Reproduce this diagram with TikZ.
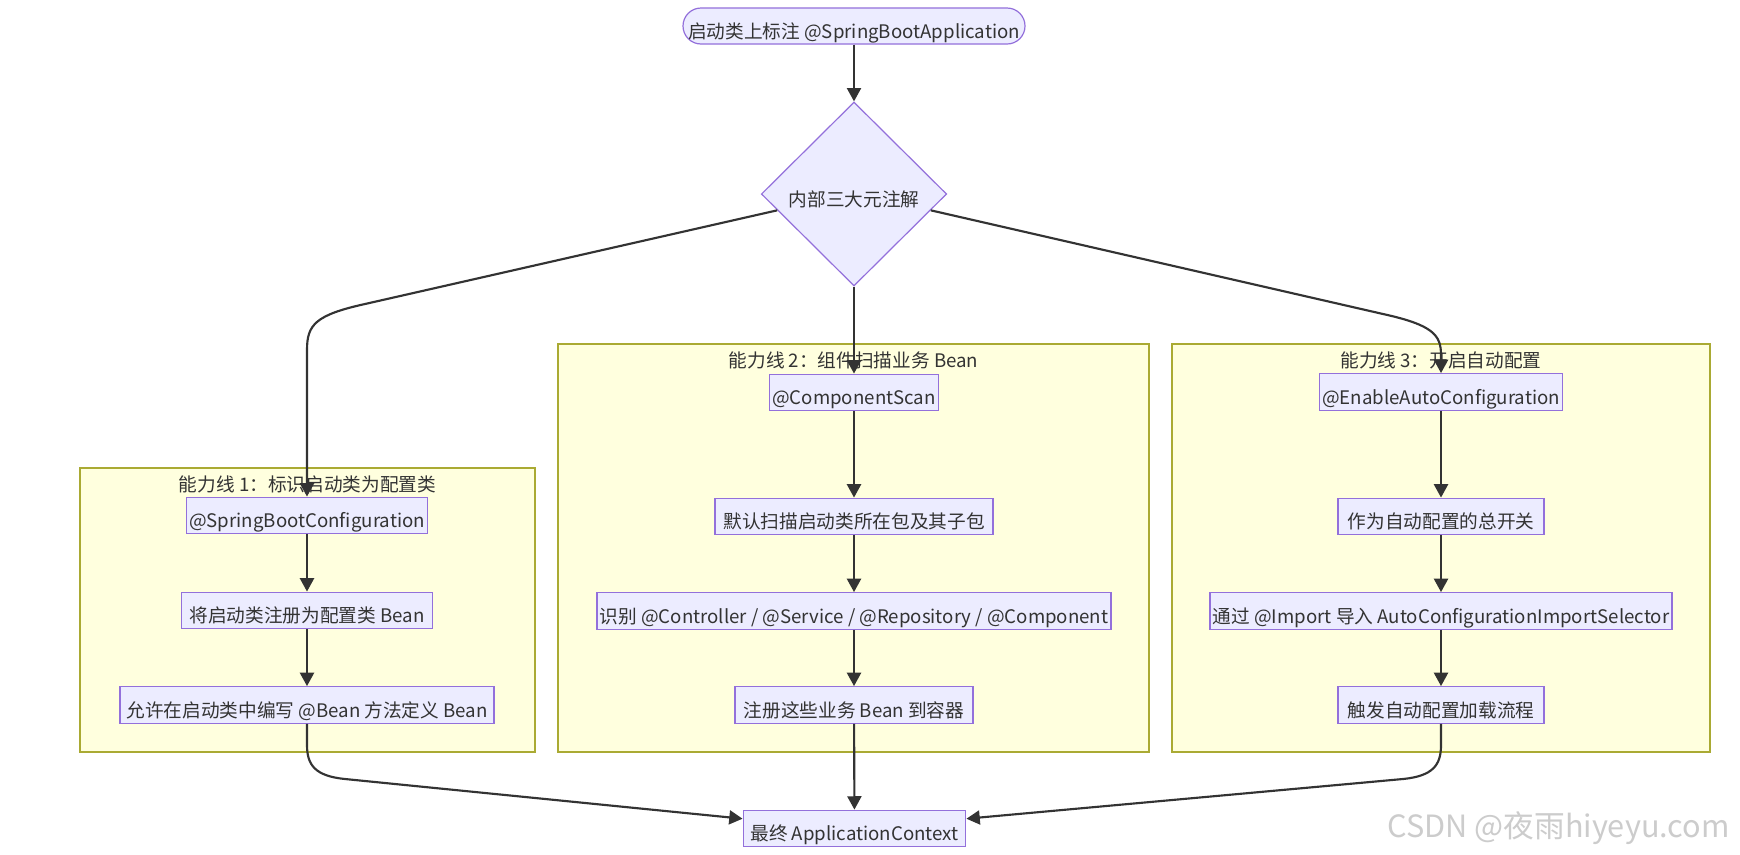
\documentclass[tikz,border=0pt]{standalone}
\usepackage{fontspec}
\setmainfont{Noto Sans CJK SC}
\usetikzlibrary{shapes.geometric,arrows.meta}

\definecolor{nodefill}{HTML}{ECECFF}
\definecolor{nodeline}{HTML}{9370DB}
\definecolor{clusterfill}{HTML}{FFFFDE}
\definecolor{clusterline}{HTML}{AAAA33}
\definecolor{inkgray}{HTML}{333333}

\tikzset{every picture/.style={line width=0.75pt}}
\tikzset{
  box/.style={draw=nodeline, fill=nodefill, line width=0.9pt, text=inkgray,
    minimum height=27.5pt, inner xsep=2pt, inner ysep=0pt,
    text height=18.5pt, text depth=0pt,
    font=\fontsize{14pt}{16pt}\selectfont},
  pill/.style={box, rounded corners=13.5pt, minimum height=27pt},
  gate/.style={box, diamond, minimum width=139pt, minimum height=138pt, inner sep=0pt},
  cluster/.style={draw=clusterline, fill=clusterfill, line width=0.8pt},
  lane/.style={text=inkgray, inner sep=0pt, font=\fontsize{14pt}{16pt}\selectfont},
  flow/.style={draw=inkgray, line width=1.6pt, -{Triangle[length=10pt,width=10.5pt]}},
  watermark/.style={text=black!20, inner sep=0pt, font=\fontsize{23pt}{26pt}\selectfont}
}

\begin{document}
\begin{tikzpicture}[x=0.75pt,y=0.75pt,yscale=-1,xscale=1]
\fill[white] (0,0) rectangle (1740,854);
\useasboundingbox (0,0) rectangle (1740,854);

%Shape: Rectangle [cluster 1]
\draw[cluster] (80,468) rectangle (535,752);
%Shape: Rectangle [cluster 2]
\draw[cluster] (558,344) rectangle (1149,752);
%Shape: Rectangle [cluster 3]
\draw[cluster] (1172,344) rectangle (1710,752);

% Text Node
\node[lane] (line1) at (307.5,484) {能力线 1：标识启动类为配置类};
% Text Node
\node[lane] (line2) at (853.5,360) {能力线 2：组件扫描业务 Bean};
% Text Node
\node[lane] (line3) at (1441,360) {能力线 3：开启自动配置};

%Shape: Rounded Rectangle
\node[pill, minimum width=256.5pt] (start) at (854,26) {启动类上标注 @SpringBootApplication};
%Shape: Diamond
\node[gate] (meta) at (854,194) {内部三大元注解};

%Shape: Rectangle [line 1]
\node[box, minimum width=177pt] (cfg) at (307,515.5) {@SpringBootConfiguration};
\node[box, minimum width=188pt] (cfgbean) at (307,610.5) {将启动类注册为配置类 Bean};
\node[box, minimum width=280.5pt] (cfgdef) at (307,705) {允许在启动类中编写 @Bean 方法定义 Bean};

%Shape: Rectangle [line 2]
\node[box, minimum width=125pt] (scan) at (854,392.5) {@ComponentScan};
\node[box, minimum width=208.5pt] (scanpkg) at (854,516.5) {默认扫描启动类所在包及其子包};
\node[box, minimum width=382pt] (scanid) at (854,611) {识别 @Controller / @Service / @Repository / @Component};
\node[box, minimum width=178.5pt] (scanreg) at (854,705) {注册这些业务 Bean 到容器};

%Shape: Rectangle [line 3]
\node[box, minimum width=180pt] (auto) at (1441,392) {@EnableAutoConfiguration};
\node[box, minimum width=154.5pt] (autoswitch) at (1441,516.5) {作为自动配置的总开关};
\node[box, minimum width=343pt] (autoimport) at (1441,611) {通过 @Import 导入 AutoConfigurationImportSelector};
\node[box, minimum width=154.5pt] (autoload) at (1441,705) {触发自动配置加载流程};

%Shape: Rectangle [result]
\node[box, minimum width=167pt] (ctx) at (854.5,828.5) {最终 ApplicationContext};

%Straight Lines
\draw[flow] (start) -- (meta);
\draw[flow] (meta.south) -- (scan.north);
%Curve Lines
\draw[flow] (meta.192) -- (365,304) .. controls (315,315) and (307,325) .. (307,350) -- (cfg.north);
\draw[flow] (meta.348) -- (1383,314) .. controls (1433,325) and (1441,335) .. (1441,355) -- (auto.north);

%Straight Lines
\draw[flow] (cfg) -- (cfgbean);
\draw[flow] (cfgbean) -- (cfgdef);
\draw[flow] (scan) -- (scanpkg);
\draw[flow] (scanpkg) -- (scanid);
\draw[flow] (scanid) -- (scanreg);
\draw[flow] (auto) -- (autoswitch);
\draw[flow] (autoswitch) -- (autoimport);
\draw[flow] (autoimport) -- (autoload);

%Curve Lines
\draw[flow] (cfgdef.south) -- (307,745) .. controls (307,765) and (315,776) .. (345,779) -- (ctx.175);
\draw[flow] (scanreg) -- (ctx);
\draw[flow] (autoload.south) -- (1441,745) .. controls (1441,765) and (1433,776) .. (1403,779) -- (ctx.5);

% Text Node
\node[watermark, anchor=west] (mark) at (1387,828) {CSDN @夜雨hiyeyu.com};

\end{tikzpicture}
\end{document}
